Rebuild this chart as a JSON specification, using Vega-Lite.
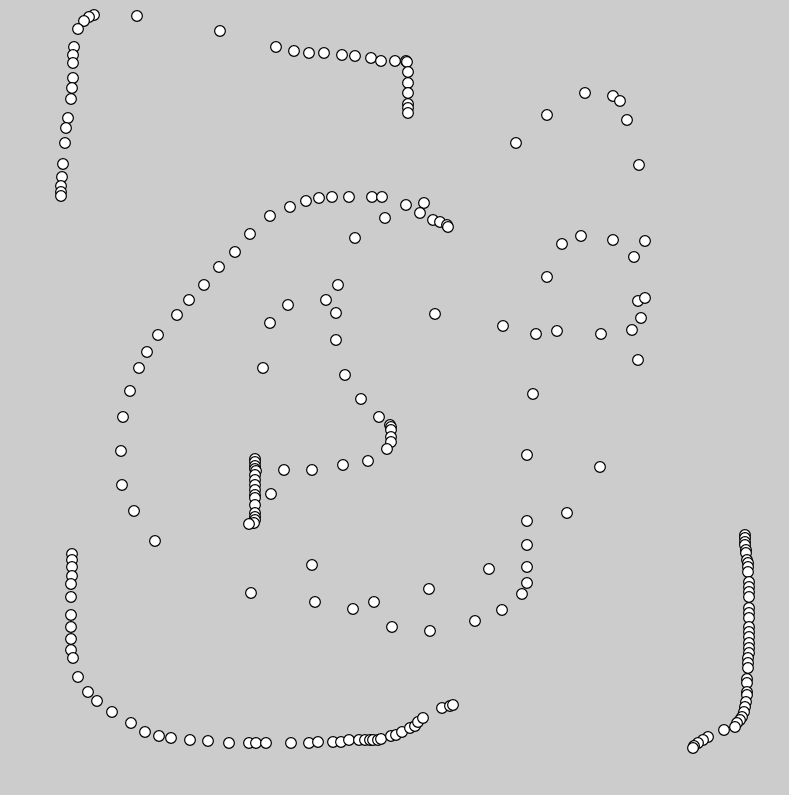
{
"$schema": "https://vega.github.io/schema/vega-lite/v6.json",
"width": 789, "height": 795, "padding": 0, "autosize": {"type": "none"},
"background": "#cccccc",
"config": {"view": {"stroke": null}},
"data": {"values": [
{"x":94,"y":15},{"x":89,"y":17},{"x":84,"y":21},{"x":78,"y":29},{"x":74,"y":47},{"x":73,"y":55},{"x":73,"y":63},{"x":73,"y":78},{"x":72,"y":88},{"x":71,"y":99},{"x":68,"y":118},{"x":66,"y":128},{"x":65,"y":143},{"x":63,"y":164},{"x":62,"y":177},{"x":61,"y":186},{"x":61,"y":192},{"x":61,"y":196},
{"x":137,"y":16},{"x":220,"y":31},
{"x":276,"y":47},{"x":294,"y":51},{"x":309,"y":53},{"x":324,"y":53},{"x":342,"y":55},{"x":355,"y":56},{"x":371,"y":58},{"x":381,"y":61},{"x":395,"y":61},{"x":406,"y":61},{"x":407,"y":62},{"x":408,"y":72},{"x":408,"y":83},{"x":408,"y":93},{"x":408,"y":104},{"x":408,"y":108},{"x":408,"y":113},
{"x":585,"y":93},{"x":613,"y":96},{"x":620,"y":101},{"x":627,"y":120},{"x":639,"y":165},{"x":547,"y":115},{"x":516,"y":143},
{"x":147,"y":352},{"x":158,"y":335},{"x":177,"y":315},{"x":189,"y":300},{"x":204,"y":285},{"x":219,"y":267},{"x":235,"y":252},{"x":250,"y":234},{"x":270,"y":216},{"x":290,"y":207},{"x":306,"y":201},{"x":319,"y":198},{"x":332,"y":197},{"x":349,"y":197},{"x":372,"y":197},{"x":382,"y":197},{"x":406,"y":205},{"x":424,"y":203},{"x":420,"y":213},{"x":433,"y":220},{"x":440,"y":222},{"x":447,"y":225},{"x":448,"y":227},{"x":385,"y":218},{"x":355,"y":238},
{"x":338,"y":285},{"x":326,"y":300},{"x":288,"y":305},{"x":336,"y":313},{"x":270,"y":323},{"x":336,"y":340},{"x":435,"y":314},
{"x":139,"y":368},{"x":130,"y":391},{"x":123,"y":417},{"x":121,"y":451},{"x":122,"y":485},{"x":134,"y":511},{"x":155,"y":541},
{"x":263,"y":368},{"x":284,"y":470},{"x":271,"y":494},
{"x":255,"y":459},{"x":255,"y":462},{"x":255,"y":466},{"x":255,"y":469},{"x":256,"y":471},{"x":255,"y":475},{"x":255,"y":480},{"x":255,"y":485},{"x":255,"y":490},{"x":255,"y":495},{"x":255,"y":498},{"x":255,"y":505},{"x":255,"y":513},{"x":255,"y":517},{"x":255,"y":520},{"x":254,"y":523},{"x":249,"y":524},
{"x":345,"y":375},{"x":361,"y":399},{"x":379,"y":417},{"x":390,"y":425},{"x":391,"y":427},{"x":391,"y":430},{"x":391,"y":437},{"x":391,"y":442},{"x":387,"y":449},{"x":368,"y":461},{"x":343,"y":465},{"x":312,"y":470},
{"x":562,"y":244},{"x":581,"y":236},{"x":613,"y":240},{"x":645,"y":241},{"x":634,"y":257},{"x":547,"y":277},{"x":638,"y":301},{"x":645,"y":298},{"x":641,"y":318},{"x":632,"y":330},{"x":601,"y":334},{"x":557,"y":331},{"x":536,"y":334},{"x":503,"y":326},{"x":638,"y":360},
{"x":533,"y":394},{"x":527,"y":455},{"x":600,"y":467},{"x":567,"y":513},{"x":527,"y":521},{"x":527,"y":545},{"x":527,"y":567},{"x":527,"y":583},{"x":522,"y":594},{"x":489,"y":569},{"x":502,"y":610},{"x":475,"y":621},
{"x":72,"y":554},{"x":72,"y":560},{"x":72,"y":567},{"x":72,"y":576},{"x":71,"y":584},{"x":71,"y":597},{"x":71,"y":615},{"x":71,"y":627},{"x":71,"y":639},{"x":71,"y":650},{"x":73,"y":658},{"x":78,"y":677},{"x":88,"y":692},{"x":97,"y":701},{"x":112,"y":712},{"x":131,"y":723},{"x":145,"y":732},{"x":159,"y":736},{"x":171,"y":738},{"x":190,"y":740},{"x":208,"y":741},{"x":229,"y":743},{"x":249,"y":743},{"x":251,"y":593},
{"x":312,"y":565},{"x":315,"y":602},{"x":353,"y":609},{"x":374,"y":602},{"x":429,"y":589},{"x":392,"y":627},{"x":430,"y":631},
{"x":256,"y":743},{"x":266,"y":743},{"x":291,"y":743},{"x":309,"y":743},{"x":318,"y":742},{"x":333,"y":742},{"x":341,"y":742},{"x":349,"y":740},{"x":359,"y":740},{"x":365,"y":740},{"x":370,"y":740},{"x":373,"y":740},{"x":378,"y":740},{"x":381,"y":739},{"x":391,"y":736},{"x":396,"y":735},{"x":402,"y":732},{"x":410,"y":728},{"x":415,"y":726},{"x":418,"y":722},{"x":423,"y":718},{"x":442,"y":708},{"x":450,"y":706},{"x":453,"y":705},
{"x":745,"y":535},{"x":745,"y":538},{"x":745,"y":542},{"x":745,"y":545},{"x":746,"y":550},{"x":746,"y":553},{"x":747,"y":560},{"x":748,"y":563},{"x":748,"y":567},{"x":748,"y":572},{"x":749,"y":582},{"x":749,"y":587},{"x":749,"y":592},{"x":749,"y":597},{"x":749,"y":608},{"x":749,"y":613},{"x":749,"y":618},{"x":749,"y":627},{"x":749,"y":632},{"x":749,"y":637},{"x":749,"y":643},{"x":749,"y":648},{"x":749,"y":653},{"x":748,"y":658},{"x":748,"y":663},{"x":748,"y":668},{"x":747,"y":679},{"x":747,"y":683},{"x":747,"y":692},{"x":747,"y":695},{"x":746,"y":702},{"x":745,"y":707},{"x":744,"y":712},{"x":742,"y":717},{"x":740,"y":720},{"x":737,"y":723},{"x":735,"y":727},{"x":724,"y":730},{"x":708,"y":737},{"x":703,"y":740},{"x":698,"y":743},{"x":694,"y":746},{"x":693,"y":748}
]},
"mark": {"type": "point", "shape": "circle", "filled": true, "fill": "white", "stroke": "black", "strokeWidth": 1.2, "size": 115, "opacity": 1},
"encoding": {
"x": {"field": "x", "type": "quantitative", "scale": {"domain": [0, 789], "nice": false, "zero": false}, "axis": null},
"y": {"field": "y", "type": "quantitative", "scale": {"domain": [0, 795], "nice": false, "zero": false, "reverse": true}, "axis": null}
}
}
